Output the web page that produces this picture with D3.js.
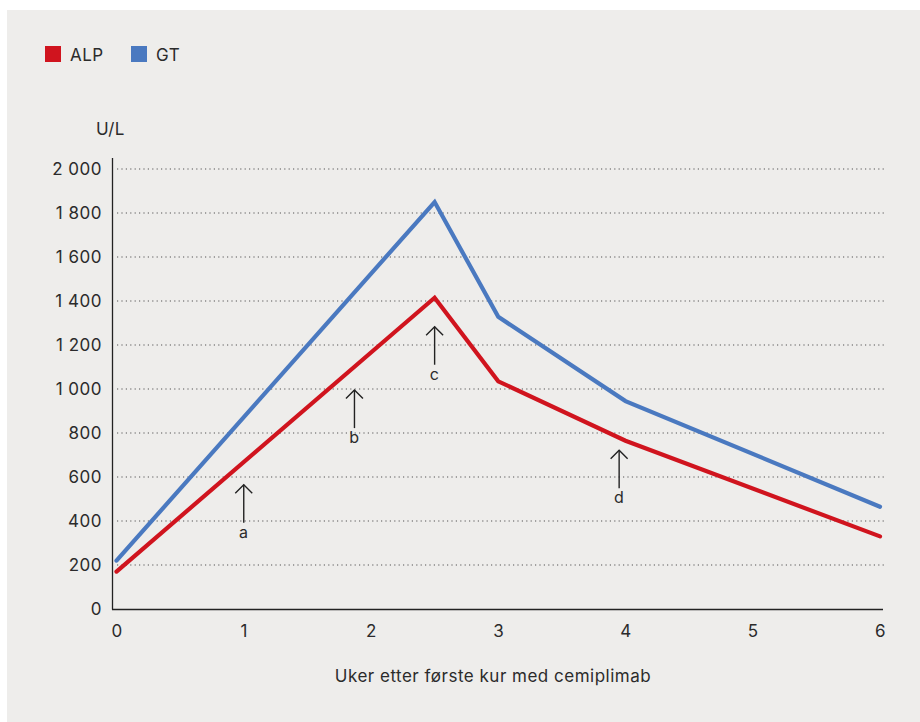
<!DOCTYPE html>
<html><head><meta charset="utf-8">
<script src="https://cdn.jsdelivr.net/npm/d3@7"></script>
<style>body{margin:0;background:#fff}svg{display:block}text{font-family:Inter,"Noto Sans",sans-serif;fill:#2b2b2b;letter-spacing:0.5px}</style>
</head><body><svg id="c" width="920" height="722"></svg>
<script>
const weeks = [0, 2.5, 3, 4, 6];
const alp = [170, 1415, 1035, 765, 330];
const gt = [220, 1850, 1328, 945, 465];
const seriesNames = ["ALP", "GT"];
const seriesColors = ["#d0141e", "#4a79c0"];
const yTicks = [0, 200, 400, 600, 800, 1000, 1200, 1400, 1600, 1800, 2000];
const xTicks = [0, 1, 2, 3, 4, 5, 6];
const annLabels = ["a", "b", "c", "d"];
const annX = [1, 1.87, 2.5, 3.95];
const annY = [565, 995, 1283, 722];

const svg = d3.select("#c");
svg.append("rect").attr("x",7).attr("y",10).attr("width",913).attr("height",712).attr("fill","#eeedeb");

const x = d3.scaleLinear().domain([0,6]).range([116.5,880]);
const y = d3.scaleLinear().domain([0,2000]).range([609,169]);
const fmt = v => v >= 1000 ? d3.format(",")(v).replace(",", " ") : String(v);

// grid
svg.append("g").selectAll("line").data(yTicks.filter(d=>d>0)).join("line")
  .attr("x1",117).attr("x2",884).attr("y1",d=>y(d)).attr("y2",d=>y(d))
  .attr("stroke","#555").attr("stroke-width",1.2).attr("stroke-dasharray","1.2,3.2");

// y axis
const ya = svg.append("g").attr("transform","translate(112,0)")
  .call(d3.axisLeft(y).tickValues(yTicks).tickSize(0).tickPadding(10).tickFormat(fmt));
ya.select(".domain").remove();
ya.selectAll("text").attr("font-size",17).attr("font-family","Inter,sans-serif").attr("fill","#2b2b2b");
svg.append("line").attr("x1",112.5).attr("x2",112.5).attr("y1",158).attr("y2",609.5).attr("stroke","#222").attr("stroke-width",1.3);

// x axis
const xa = svg.append("g").attr("transform","translate(0,609)")
  .call(d3.axisBottom(x).tickValues(xTicks).tickSize(0).tickPadding(16).tickFormat(d3.format("d")));
xa.select(".domain").remove();
xa.selectAll("text").attr("font-size",17).attr("font-family","Inter,sans-serif").attr("fill","#2b2b2b");
svg.append("line").attr("x1",112).attr("x2",883).attr("y1",609.5).attr("y2",609.5).attr("stroke","#222").attr("stroke-width",1.3);

// lines
const line = d3.line().x((d,i)=>x(weeks[i])).y(d=>y(d));
[gt, alp].forEach((s,k)=>{
  const idx = k===0 ? 1 : 0;
  svg.append("path").attr("d",line(s)).attr("fill","none")
    .attr("stroke",seriesColors[idx]).attr("stroke-width",4.2)
    .attr("stroke-linejoin","miter").attr("stroke-linecap","round");
});

// annotations
annLabels.forEach((l,i)=>{
  const ax = x(annX[i]), ay = y(annY[i]);
  const g = svg.append("g").attr("stroke","#222").attr("stroke-width",1.4).attr("fill","none");
  g.append("line").attr("x1",ax).attr("x2",ax).attr("y1",ay).attr("y2",ay+38);
  g.append("path").attr("d",`M${ax-8.5},${ay+8.5}L${ax},${ay}L${ax+8.5},${ay+8.5}`);
  svg.append("text").attr("x",ax).attr("y",ay+53).attr("text-anchor","middle").attr("font-size",16).text(l);
});

// legend
const legX = [45, 131];
seriesNames.forEach((n,i)=>{
  svg.append("rect").attr("x",legX[i]).attr("y",46).attr("width",16).attr("height",16).attr("fill",seriesColors[i]);
  svg.append("text").attr("x",legX[i]+25).attr("y",60.5).attr("font-size",17).text(n);
});

svg.append("text").attr("x",96).attr("y",134.5).attr("font-size",17).text("U/L");
svg.append("text").attr("x",493).attr("y",682).attr("text-anchor","middle").attr("font-size",17).attr("letter-spacing","0.8px").text("Uker etter første kur med cemiplimab");
</script></body></html>
